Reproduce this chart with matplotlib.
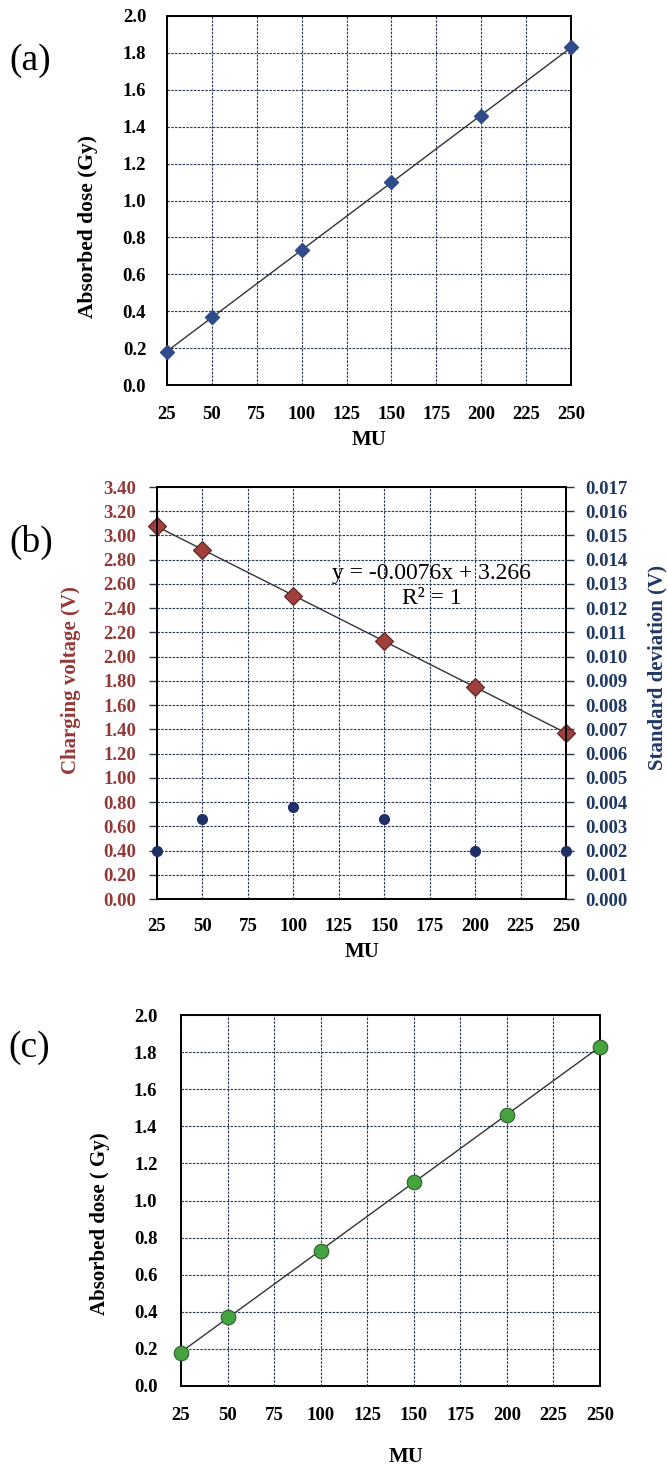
import numpy as np
import matplotlib
matplotlib.use("Agg")
import matplotlib.pyplot as plt

plt.rcParams['font.family'] = ['Liberation Serif', 'DejaVu Serif']

# ---------------- data ----------------
mu = [25, 50, 100, 150, 200, 250]
x_ticks = [25, 50, 75, 100, 125, 150, 175, 200, 225, 250]

dose_a = [0.18, 0.37, 0.73, 1.10, 1.46, 1.83]
voltage_b = [3.08, 2.88, 2.50, 2.13, 1.75, 1.37]
stdev_b = [0.0020, 0.0033, 0.0038, 0.0033, 0.0020, 0.0020]
dose_c = [0.18, 0.37, 0.73, 1.10, 1.46, 1.83]

dose_ticks = [0.0, 0.2, 0.4, 0.6, 0.8, 1.0, 1.2, 1.4, 1.6, 1.8, 2.0]
volt_ticks = [0.00, 0.20, 0.40, 0.60, 0.80, 1.00, 1.20, 1.40, 1.60, 1.80,
              2.00, 2.20, 2.40, 2.60, 2.80, 3.00, 3.20, 3.40]
std_ticks = [0.000, 0.001, 0.002, 0.003, 0.004, 0.005, 0.006, 0.007, 0.008,
             0.009, 0.010, 0.011, 0.012, 0.013, 0.014, 0.015, 0.016, 0.017]

W, H = 668, 1468
fig = plt.figure(figsize=(W / 100, H / 100), dpi=100)

def box(l, r, t, b):
    return [l / W, 1 - b / H, (r - l) / W, (b - t) / H]

def fx(x):
    return x / W

def fy(y):
    return 1 - y / H

GRID = '#2a3550'
RED = '#953735'
NAVY = '#1f3864'

def style(ax):
    ax.grid(True, color=GRID, linestyle=(0, (2.2, 1.2)), linewidth=0.8)
    ax.set_axisbelow(True)
    for s in ax.spines.values():
        s.set_linewidth(1.4)
        s.set_color('black')

def fitline(ax, x, y):
    k, b = np.polyfit(x, y, 1)
    xs = np.array([min(x), max(x)])
    ax.plot(xs, k * xs + b, color='#333333', linewidth=1.0, zorder=2)

# ---------------- (a) ----------------
axa = fig.add_axes(box(167, 571, 16, 385))
style(axa)
fitline(axa, mu, dose_a)
axa.plot(mu, dose_a, linestyle='none', marker='D', markersize=7.5,
         color='#2f4b8a', markeredgecolor='#2f4b8a', zorder=3, clip_on=False)
axa.set_xlim(25, 250)
axa.set_ylim(0, 2.0)
axa.set_xticks(x_ticks)
axa.set_yticks(dose_ticks)
axa.set_yticklabels([f'{v:.1f}' for v in dose_ticks])
axa.tick_params(length=0, labelsize=13.5, pad=15)
for lab in axa.get_xticklabels() + axa.get_yticklabels():
    lab.set_fontweight('bold')
fig.text(fx(369), fy(440), 'MU', ha='center', va='center', fontsize=15, fontweight='bold')
fig.text(fx(88), fy(227), 'Absorbed dose (Gy)', ha='center', va='center',
         rotation=90, fontsize=15.5, fontweight='bold')
fig.text(fx(30), fy(61), '(a)', ha='center', va='center', fontsize=27)

# ---------------- (b) ----------------
axb = fig.add_axes(box(157, 566, 487, 899))
style(axb)
fitline(axb, mu, voltage_b)
axb.plot(mu, voltage_b, linestyle='none', marker='D', markersize=9.5,
         color='#a0403c', markeredgecolor='#5a2020', markeredgewidth=0.8,
         zorder=4, clip_on=False)
axb.set_xlim(25, 250)
axb.set_ylim(0, 3.40)
axb.set_xticks(x_ticks)
axb.set_yticks(volt_ticks)
axb.set_yticklabels([f'{v:.2f}' for v in volt_ticks])
axb.tick_params(axis='y', length=6, width=1.0, direction='out', color=GRID,
                labelsize=13.5, pad=9, labelcolor=RED)
axb.tick_params(axis='x', length=0, labelsize=13.5, pad=14)
for lab in axb.get_xticklabels() + axb.get_yticklabels():
    lab.set_fontweight('bold')

axb2 = axb.twinx()
axb2.plot(mu, stdev_b, linestyle='none', marker='o', markersize=7,
          color='#1f3068', zorder=4, clip_on=False)
axb2.set_ylim(0, 0.017)
axb2.set_yticks(std_ticks)
axb2.set_yticklabels([f'{v:.3f}' for v in std_ticks])
axb2.tick_params(axis='y', length=6, width=1.0, direction='out', color=GRID,
                 labelsize=13.5, pad=8, labelcolor=NAVY)
for lab in axb2.get_yticklabels():
    lab.set_fontweight('bold')
for s in axb2.spines.values():
    s.set_linewidth(1.4)

axb.text(0.672, 0.790, 'y = -0.0076x + 3.266', transform=axb.transAxes,
         ha='center', va='center', fontsize=17)
axb.text(0.672, 0.730, 'R² = 1', transform=axb.transAxes,
         ha='center', va='center', fontsize=17)
fig.text(fx(362), fy(952), 'MU', ha='center', va='center', fontsize=15, fontweight='bold')
fig.text(fx(71), fy(680), 'Charging voltage (V)', ha='center', va='center',
         rotation=90, fontsize=15, fontweight='bold', color=RED)
fig.text(fx(657), fy(668), 'Standard deviation (V)', ha='center', va='center',
         rotation=90, fontsize=15, fontweight='bold', color=NAVY)
fig.text(fx(31), fy(542), '(b)', ha='center', va='center', fontsize=27)

# ---------------- (c) ----------------
axc = fig.add_axes(box(181, 600, 1015, 1386))
style(axc)
fitline(axc, mu, dose_c)
axc.plot(mu, dose_c, linestyle='none', marker='o', markersize=10.5,
         color='#45a340', markeredgecolor='#2e5f2a', markeredgewidth=0.8,
         zorder=3, clip_on=False)
axc.set_xlim(25, 250)
axc.set_ylim(0, 2.0)
axc.set_xticks(x_ticks)
axc.set_yticks(dose_ticks)
axc.set_yticklabels([f'{v:.1f}' for v in dose_ticks])
axc.tick_params(length=0, labelsize=13.5, pad=17)
axc.tick_params(axis='x', pad=15)
for lab in axc.get_xticklabels() + axc.get_yticklabels():
    lab.set_fontweight('bold')
fig.text(fx(406), fy(1457), 'MU', ha='center', va='center', fontsize=15, fontweight='bold')
fig.text(fx(100), fy(1224), 'Absorbed dose ( Gy)', ha='center', va='center',
         rotation=90, fontsize=15, fontweight='bold')
fig.text(fx(29), fy(1048), '(c)', ha='center', va='center', fontsize=27)

fig.savefig('out.png', dpi=100)
